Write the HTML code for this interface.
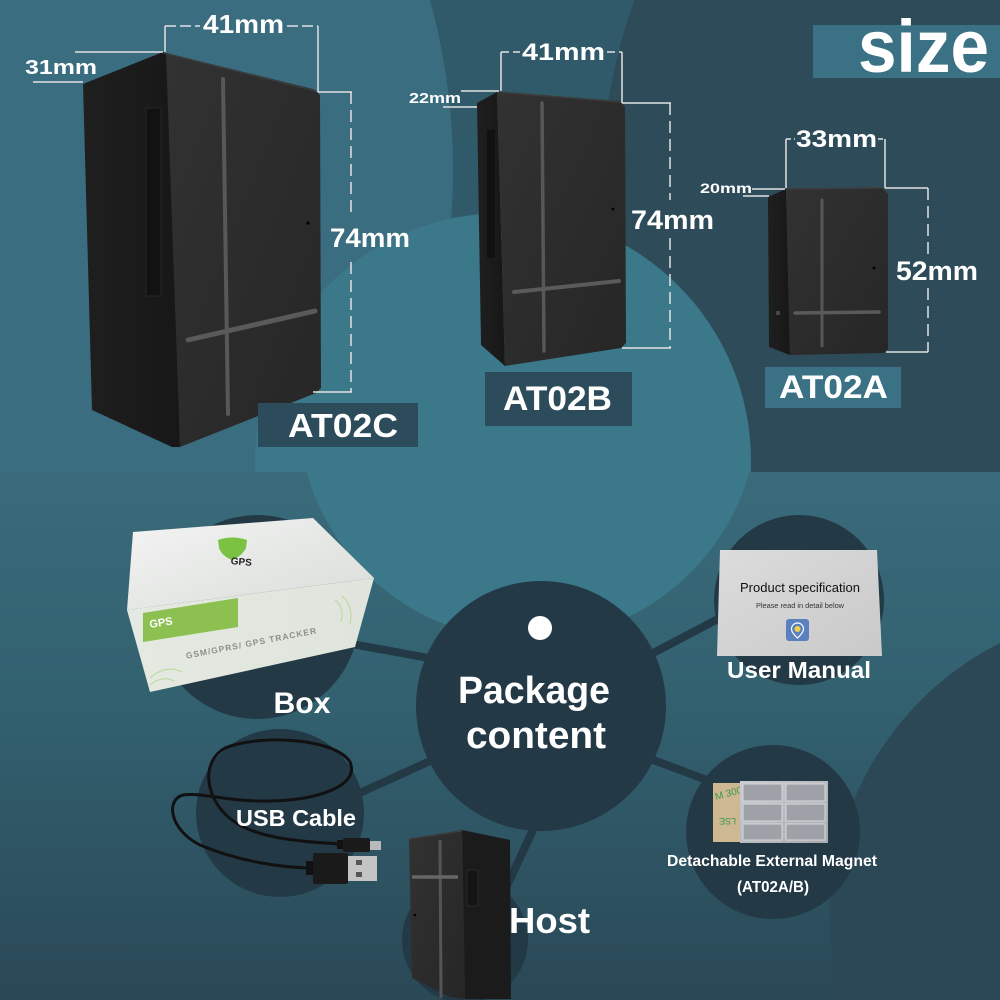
<!DOCTYPE html>
<html><head><meta charset="utf-8"><style>
html,body{margin:0;padding:0;width:1000px;height:1000px;overflow:hidden;background:#2d4b59}
svg{display:block}
text{font-family:"Liberation Sans",Arial,sans-serif;font-weight:bold;fill:#fff}
</style></head><body>
<svg width="1000" height="1000" viewBox="0 0 1000 1000" xmlns="http://www.w3.org/2000/svg">
<defs>
<clipPath id="ctop"><rect x="0" y="0" width="1000" height="472"/></clipPath>
<clipPath id="cbot"><rect x="0" y="472" width="1000" height="528"/></clipPath>
<linearGradient id="bg2" x1="0" y1="0" x2="0" y2="1">
<stop offset="0" stop-color="#3a6b7b"/><stop offset="0.45" stop-color="#32606f"/><stop offset="1" stop-color="#2a4856"/></linearGradient>
<linearGradient id="front" x1="0" y1="0" x2="1" y2="1"><stop offset="0" stop-color="#323232"/><stop offset="1" stop-color="#262626"/></linearGradient>
<linearGradient id="side" x1="0" y1="0" x2="1" y2="0"><stop offset="0" stop-color="#1f1f1f"/><stop offset="1" stop-color="#171717"/></linearGradient>
<linearGradient id="boxtop" x1="0" y1="0" x2="1" y2="1"><stop offset="0" stop-color="#f3f4f3"/><stop offset="1" stop-color="#d9dcd9"/></linearGradient>
<linearGradient id="boxfront" x1="0" y1="0" x2="1" y2="0"><stop offset="0" stop-color="#e4eae1"/><stop offset="1" stop-color="#dfe4dc"/></linearGradient>
<linearGradient id="card" x1="0" y1="0" x2="1" y2="1"><stop offset="0" stop-color="#dcdcdc"/><stop offset="1" stop-color="#c9c9c9"/></linearGradient>
<linearGradient id="metal" x1="0" y1="0" x2="1" y2="1"><stop offset="0" stop-color="#c9ccd0"/><stop offset="1" stop-color="#a7abb0"/></linearGradient>
</defs>

<!-- TOP BACKGROUND -->
<rect x="0" y="0" width="1000" height="472" fill="#305a6a"/>
<path d="M634.3,0 A600,600 0 0 0 665.2,472 L1000,472 L1000,0 Z" fill="#2d4b59"/>
<path d="M0,0 L430,0 A640,640 0 0 1 377.3,472 L0,472 Z" fill="#3a6d7f"/>
<g clip-path="url(#ctop)">
<circle cx="503" cy="461" r="248" fill="#3b788a"/>
</g>

<!-- BOTTOM BACKGROUND -->
<rect x="0" y="472" width="1000" height="528" fill="url(#bg2)"/>
<g clip-path="url(#cbot)">
<circle cx="528" cy="410" r="230" fill="#3b788a"/>
</g>
<path d="M1000,643 A310,310 0 0 0 840.5,1000 L1000,1000 Z" fill="#2c4856"/>

<!-- SIZE label -->
<rect x="813" y="25" width="187" height="53" fill="#3a7184"/>
<text x="858" y="72" font-size="74" textLength="131" lengthAdjust="spacingAndGlyphs">size</text>

<!-- ===== AT02C ===== -->
<polygon points="83,84 163,52 172,58 180,447 172,447 92,410" fill="url(#side)"/>
<polygon points="166,53 313,89 320,95 321,388 316,393 180,447" fill="url(#front)"/>
<line x1="164" y1="53" x2="316" y2="91" stroke="#3c3c3c" stroke-width="1.5"/>
<rect x="146" y="108" width="15" height="188" fill="#121212" stroke="#262626" stroke-width="1"/>
<line x1="223" y1="79" x2="228" y2="414" stroke="#585858" stroke-width="4" stroke-linecap="round"/>
<line x1="188" y1="340" x2="315" y2="311" stroke="#5a5a5a" stroke-width="5" stroke-linecap="round"/>
<circle cx="308" cy="223" r="1.6" fill="#000"/>

<g stroke="#e2e2e2" stroke-width="1.5" fill="none">
<line x1="165" y1="26" x2="165" y2="52"/>
<line x1="165" y1="26" x2="200" y2="26" stroke-dasharray="11 4"/>
<line x1="287" y1="26" x2="318" y2="26" stroke-dasharray="11 4"/>
<line x1="318" y1="26" x2="318" y2="92"/>
<line x1="318" y1="92" x2="352" y2="92"/>
<line x1="351" y1="92" x2="351" y2="215" stroke-dasharray="12 6"/>
<line x1="351" y1="262" x2="351" y2="392" stroke-dasharray="12 6"/>
<line x1="313" y1="392" x2="352" y2="392"/>
<line x1="75" y1="52" x2="163" y2="52"/>
<line x1="33" y1="82" x2="83" y2="82"/>
</g>
<text x="203" y="33" font-size="26" textLength="81" lengthAdjust="spacingAndGlyphs">41mm</text>
<text x="25" y="74" font-size="20" textLength="72" lengthAdjust="spacingAndGlyphs">31mm</text>
<text x="330" y="247" font-size="27" textLength="80" lengthAdjust="spacingAndGlyphs">74mm</text>

<rect x="258" y="403" width="160" height="44" fill="#2d4c5b"/>
<text x="288" y="437" font-size="33" textLength="110" lengthAdjust="spacingAndGlyphs">AT02C</text>

<!-- ===== AT02B ===== -->
<polygon points="477,103 497,92 505,366 481,345" fill="url(#side)"/>
<polygon points="497,92 620,101 625,107 626,343 621,348 505,366" fill="url(#front)"/>
<line x1="498" y1="92" x2="621" y2="102" stroke="#3c3c3c" stroke-width="1.5"/>
<rect x="487" y="130" width="8" height="128" fill="#111"/>
<line x1="542" y1="103" x2="544" y2="351" stroke="#575757" stroke-width="3.5" stroke-linecap="round"/>
<line x1="514" y1="292" x2="619" y2="281" stroke="#5a5a5a" stroke-width="4" stroke-linecap="round"/>
<circle cx="613" cy="209" r="1.4" fill="#000"/>

<g stroke="#e2e2e2" stroke-width="1.5" fill="none">
<line x1="501" y1="52" x2="501" y2="91"/>
<line x1="501" y1="52" x2="520" y2="52" stroke-dasharray="8 4"/>
<line x1="607" y1="52" x2="622" y2="52" stroke-dasharray="8 4"/>
<line x1="622" y1="52" x2="622" y2="103"/>
<line x1="622" y1="103" x2="671" y2="103"/>
<line x1="670" y1="103" x2="670" y2="200" stroke-dasharray="12 6"/>
<line x1="670" y1="238" x2="670" y2="348" stroke-dasharray="12 6"/>
<line x1="622" y1="348" x2="671" y2="348"/>
<line x1="461" y1="91" x2="499" y2="91"/>
<line x1="443" y1="107" x2="477" y2="107"/>
</g>
<text x="522" y="60" font-size="24" textLength="83" lengthAdjust="spacingAndGlyphs">41mm</text>
<text x="409" y="103" font-size="15" textLength="52" lengthAdjust="spacingAndGlyphs">22mm</text>
<text x="631" y="229" font-size="27" textLength="83" lengthAdjust="spacingAndGlyphs">74mm</text>

<rect x="485" y="372" width="147" height="54" fill="#2d4c5b"/>
<text x="503" y="410" font-size="34" textLength="109" lengthAdjust="spacingAndGlyphs">AT02B</text>

<!-- ===== AT02A ===== -->
<polygon points="768,197 786,189 790,355 769,347" fill="url(#side)"/>
<polygon points="786,189 882,188 888,194 888,349 884,353 790,355" fill="url(#front)"/>
<line x1="787" y1="189" x2="883" y2="188" stroke="#3c3c3c" stroke-width="1.5"/>
<line x1="822" y1="200" x2="822" y2="346" stroke="#575757" stroke-width="3" stroke-linecap="round"/>
<line x1="795" y1="313" x2="879" y2="312" stroke="#5a5a5a" stroke-width="3.5" stroke-linecap="round"/>
<circle cx="874" cy="268" r="1.4" fill="#000"/>
<rect x="776" y="311" width="4" height="4" fill="#444"/>

<g stroke="#e2e2e2" stroke-width="1.5" fill="none">
<line x1="786" y1="139" x2="786" y2="188"/>
<line x1="786" y1="139" x2="795" y2="139" stroke-dasharray="5 3"/>
<line x1="878" y1="139" x2="885" y2="139" stroke-dasharray="5 3"/>
<line x1="885" y1="139" x2="885" y2="188"/>
<line x1="885" y1="188" x2="928" y2="188"/>
<line x1="928" y1="188" x2="928" y2="255" stroke-dasharray="12 6"/>
<line x1="928" y1="288" x2="928" y2="352" stroke-dasharray="12 6"/>
<line x1="886" y1="352" x2="928" y2="352"/>
<line x1="752" y1="189" x2="785" y2="189"/>
<line x1="743" y1="196" x2="769" y2="196"/>
</g>
<text x="796" y="147" font-size="24" textLength="81" lengthAdjust="spacingAndGlyphs">33mm</text>
<text x="700" y="193" font-size="14" textLength="52" lengthAdjust="spacingAndGlyphs">20mm</text>
<text x="896" y="280" font-size="27" textLength="82" lengthAdjust="spacingAndGlyphs">52mm</text>

<rect x="765" y="367" width="136" height="41" fill="#3a7184"/>
<text x="779" y="398" font-size="32" textLength="109" lengthAdjust="spacingAndGlyphs">AT02A</text>

<!-- ===== PACKAGE CONTENT ===== -->
<g stroke="#233946" stroke-width="8" stroke-linecap="round">
<line x1="330" y1="640" x2="450" y2="662"/>
<line x1="340" y1="802" x2="450" y2="752"/>
<line x1="640" y1="660" x2="735" y2="610"/>
<line x1="640" y1="755" x2="720" y2="785"/>
<line x1="540" y1="815" x2="505" y2="890"/>
</g>
<g fill="#233946">
<circle cx="541" cy="706" r="125"/>
<circle cx="257" cy="617" r="102"/>
<circle cx="280" cy="813" r="84"/>
<path d="M402,940 A63,63 0 0 1 528,940 A63,63 0 0 1 484.2,1000 L445.8,1000 A63,63 0 0 1 402,940 Z"/>
<circle cx="799" cy="600" r="85"/>
<circle cx="773" cy="832" r="87"/>
</g>
<circle cx="540" cy="628" r="12" fill="#fff"/>
<text x="534" y="703" font-size="38" text-anchor="middle" textLength="152" lengthAdjust="spacingAndGlyphs">Package</text>
<text x="536" y="748" font-size="38" text-anchor="middle" textLength="140" lengthAdjust="spacingAndGlyphs">content</text>

<!-- Box -->
<polygon points="133,532 313,518 374,578 127,610" fill="url(#boxtop)"/>
<polygon points="127,610 374,578 355,647 150,692" fill="url(#boxfront)"/>
<path d="M218,540 Q232,535 247,540 L246,548 Q242,556 232,560 Q222,556 219,548 Z" fill="#7cc242"/>
<text x="241" y="565" font-size="10" style="fill:#222" text-anchor="middle" transform="rotate(5 241 565)">GPS</text>
<polygon points="143,613 238,598 238,627 143,642" fill="#8cc152"/>
<text x="150" y="628" font-size="11" transform="rotate(-9 150 628)">GPS</text>
<text x="252" y="646" font-size="8.5" text-anchor="middle" style="fill:#8a8f88;letter-spacing:1px" transform="rotate(-11 252 646)">GSM/GPRS/ GPS TRACKER</text>
<path d="M150,685 q12,-10 24,-4 M150,678 q16,-14 32,-6 M335,600 q10,8 6,22 M342,596 q12,10 8,28" stroke="#b8d89a" stroke-width="1" fill="none"/>
<text x="302" y="713" font-size="30" text-anchor="middle" textLength="57" lengthAdjust="spacingAndGlyphs">Box</text>

<!-- USB cable -->
<path d="M343,844 C300,842 255,838 232,820 C205,800 200,762 225,748 C260,734 335,738 350,762 C360,785 320,800 270,801 C230,802 200,792 183,795 C165,800 170,830 200,845 C240,862 285,868 313,868" stroke="#111" stroke-width="3" fill="none"/>
<rect x="337" y="840" width="8" height="9" fill="#111"/>
<rect x="343" y="838" width="27" height="14" rx="2" fill="#1a1a1a"/>
<rect x="370" y="841" width="11" height="9" fill="#b9b9b9"/>
<rect x="306" y="861" width="10" height="14" fill="#111"/>
<rect x="313" y="853" width="35" height="31" rx="2" fill="#1a1a1a"/>
<rect x="348" y="856" width="29" height="25" fill="#c4c4c4"/>
<rect x="356" y="860" width="6" height="5" fill="#555"/>
<rect x="356" y="872" width="6" height="5" fill="#555"/>
<text x="296" y="826" font-size="23" text-anchor="middle" textLength="120" lengthAdjust="spacingAndGlyphs">USB Cable</text>

<!-- Host device -->
<polygon points="462,830 510,840 511,999 465,999" fill="#1b1b1b"/>
<polygon points="409,839 462,830 465,999 450,997 412,978" fill="url(#front)"/>
<line x1="410" y1="839" x2="462" y2="831" stroke="#3c3c3c" stroke-width="1.5"/>
<line x1="440" y1="840" x2="441" y2="998" stroke="#555" stroke-width="3"/>
<line x1="412" y1="877" x2="458" y2="877" stroke="#666" stroke-width="3.5"/>
<rect x="467" y="870" width="11" height="36" fill="#141414" stroke="#2a2a2a" stroke-width="1"/>
<circle cx="415" cy="915" r="1.3" fill="#000"/>
<text x="509" y="933" font-size="36" textLength="81" lengthAdjust="spacingAndGlyphs">Host</text>

<!-- User manual -->
<polygon points="720,550 877,550 882,656 717,656" fill="url(#card)"/>
<text x="800" y="592" font-size="12.5" text-anchor="middle" style="fill:#111;font-weight:normal" textLength="120" lengthAdjust="spacingAndGlyphs">Product specification</text>
<text x="800" y="608" font-size="7" text-anchor="middle" style="fill:#333;font-weight:normal" textLength="88" lengthAdjust="spacingAndGlyphs">Please read in detail below</text>
<rect x="786" y="619" width="23" height="22" rx="3" fill="#5a80c0"/>
<path d="M797.5,623 a6,6 0 0 1 6,6 c0,4 -6,9 -6,9 c0,0 -6,-5 -6,-9 a6,6 0 0 1 6,-6z" fill="none" stroke="#fff" stroke-width="1.2"/>
<circle cx="797.5" cy="629" r="3" fill="#f2d14a"/>
<text x="799" y="678" font-size="23" text-anchor="middle" textLength="144" lengthAdjust="spacingAndGlyphs">User Manual</text>

<!-- Magnet -->
<rect x="713" y="783" width="29" height="59" fill="#cdb891"/>
<text x="716" y="800" font-size="10" style="fill:#3d9a4a;font-weight:normal" transform="rotate(-15 716 800)">M 300</text>
<text x="716" y="826" font-size="9" style="fill:#3d9a4a;font-weight:normal" transform="rotate(180 726 822)">LSE</text>
<rect x="740" y="781" width="88" height="62" fill="url(#metal)"/>
<g fill="#9ea2a8" stroke="#d6d8db" stroke-width="1">
<rect x="743" y="784" width="39" height="17"/>
<rect x="786" y="784" width="39" height="17"/>
<rect x="743" y="804" width="39" height="17"/>
<rect x="786" y="804" width="39" height="17"/>
<rect x="743" y="824" width="39" height="16"/>
<rect x="786" y="824" width="39" height="16"/>
</g>
<text x="772" y="866" font-size="15.5" text-anchor="middle" textLength="210" lengthAdjust="spacingAndGlyphs">Detachable External Magnet</text>
<text x="773" y="892" font-size="15.5" text-anchor="middle" textLength="72" lengthAdjust="spacingAndGlyphs">(AT02A/B)</text>
</svg>
</body></html>
